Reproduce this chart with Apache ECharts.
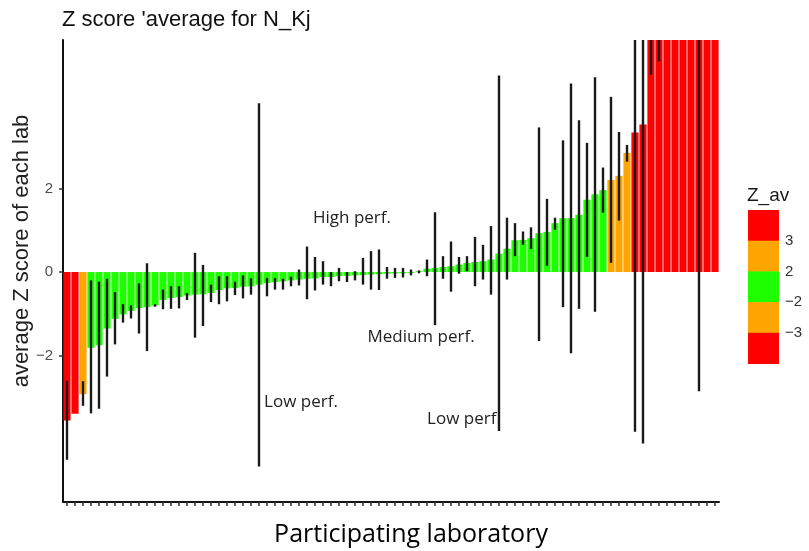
<!DOCTYPE html>
<html>
<head>
<meta charset="utf-8">
<script src="https://cdn.jsdelivr.net/npm/echarts@6/dist/echarts.min.js"></script>
<style>html,body{margin:0;padding:0;background:#fff}#c{width:809px;height:551px}</style>
</head>
<body>
<div id="c"></div>
<script>
// ---- data ----
const labs = Array.from({length: 82}, (_, i) => 'Lab ' + (i + 1));
const zAvg = [
  -3.55, -3.39, -2.92, -1.81, -1.75, -1.35, -1.12, -1.01, -0.93, -0.86,
  -0.84, -0.80, -0.67, -0.62, -0.60, -0.56, -0.54, -0.53, -0.50, -0.43,
  -0.39, -0.38, -0.35, -0.34, -0.30, -0.26, -0.24, -0.22, -0.20, -0.18,
  -0.16, -0.15, -0.12, -0.12, -0.10, -0.09, -0.08, -0.07, -0.06, -0.05,
  -0.04, -0.03, -0.03, -0.02, 0.02, 0.08, 0.10, 0.12, 0.14, 0.18,
  0.22, 0.24, 0.26, 0.30, 0.44, 0.56, 0.76, 0.77, 0.81, 0.93,
  0.96, 1.17, 1.29, 1.29, 1.37, 1.73, 1.86, 1.96, 2.20, 2.30,
  2.85, 3.34, 3.53, 5.55, 5.55, 5.55, 5.55, 5.55, 5.55, 5.55,
  5.55, 5.55
];
const errLow = [
  -4.49, null, -3.20, -3.38, -3.27, -2.50, -1.73, -1.21, -1.11, -1.47,
  -1.89, -0.83, -0.89, -0.88, -0.87, -0.67, -1.57, -1.29, -0.72, -0.77,
  -0.70, -0.55, -0.63, -0.54, -4.65, -0.58, -0.42, -0.42, -0.34, -0.32,
  -0.65, -0.44, -0.30, -0.34, -0.22, -0.24, -0.20, -0.30, -0.42, -0.43,
  -0.16, -0.14, -0.13, -0.08, -0.03, -0.10, -1.27, -0.16, -0.47, -0.04,
  0.02, -0.34, -0.18, -0.54, -3.80, -0.18, 0.38, 0.65, 0.55, -1.65,
  0.15, 1.01, -0.84, -1.94, -0.88, 0.36, -0.95, 1.42, 0.22, 1.23,
  2.64, -3.82, -4.10, 4.72, 5.04, null, null, null, null, -2.85,
  null, null
];
const errHigh = [
  -2.60, null, -2.61, -0.20, -0.23, -0.16, -0.48, -0.77, -0.80, -0.27,
  0.21, -0.77, -0.42, -0.34, -0.34, -0.50, 0.46, 0.17, -0.30, -0.10,
  -0.10, -0.23, -0.08, -0.15, 4.04, -0.14, -0.14, -0.16, -0.11, 0.06,
  0.61, 0.36, 0.26, 0.00, 0.10, 0.00, 0.02, 0.34, 0.50, 0.54,
  0.12, 0.10, 0.10, 0.06, 0.04, 0.30, 1.43, 0.38, 0.73, 0.36,
  0.38, 0.84, 0.65, 1.10, 4.70, 1.30, 1.17, 0.97, 1.07, 3.46,
  1.75, 1.30, 3.15, 4.51, 3.63, 3.09, 4.66, 2.50, 4.19, 3.35,
  3.04, 5.55, 5.55, 5.55, 5.55, null, null, null, null, 5.55,
  null, null
];
const yTicks = [-2, 0, 2];
const legendLabels = ['3', '2', '\u22122', '\u22123'];
const annotations = [
  {text: 'High perf.', x: 352, y: 218},
  {text: 'Medium perf.', x: 421, y: 337},
  {text: 'Low perf.', x: 301, y: 402},
  {text: 'Low perf.', x: 464, y: 419}
];

// ---- colours ----
const RED = '#FF0000', ORANGE = '#FFA500', GREEN = '#1EFF00';
function colorFor(v) {
  const a = Math.abs(v);
  if (a >= 3) return RED;
  if (a >= 2) return ORANGE;
  return GREEN;
}

const barData = zAvg.map(v => ({value: v, itemStyle: {color: colorFor(v)}}));
const errData = [];
errLow.forEach((lo, i) => { if (lo !== null && errHigh[i] !== null) errData.push([i, lo, errHigh[i]]); });

const chart = echarts.init(document.getElementById('c'), null, {renderer: 'canvas'});

const legendX = 748, legendY = 210, segH = 30.7, segW = 31;
const legendColors = [RED, ORANGE, GREEN, ORANGE, RED];
const graphics = [];
legendColors.forEach((c, k) => {
  graphics.push({type: 'rect', left: legendX, top: legendY + k * segH,
    shape: {width: segW, height: segH + 0.5}, style: {fill: c}, z: 10});
});
legendLabels.forEach((t, k) => {
  graphics.push({type: 'text', x: 785, y: legendY + (k + 1) * segH,
    style: {text: t, font: '15px "Liberation Sans", Arial, sans-serif', fill: '#333',
      textAlign: 'left', textVerticalAlign: 'middle'}, z: 10});
});
graphics.push({type: 'text', x: 747, y: 196,
  style: {text: 'Z_av', font: '19px "Liberation Sans", Arial, sans-serif', fill: '#1a1a1a',
    textAlign: 'left', textVerticalAlign: 'middle'}});
graphics.push({type: 'text', x: 62, y: 20,
  style: {text: "Z score 'average for N_Kj", font: '22px "Liberation Sans", Arial, sans-serif', fill: '#111',
    textAlign: 'left', textVerticalAlign: 'middle'}});
graphics.push({type: 'text', x: 22, y: 251, rotation: Math.PI / 2,
  style: {text: 'average Z score of each lab', font: '22px "Liberation Sans", Arial, sans-serif', fill: '#222',
    textAlign: 'center', textVerticalAlign: 'middle'}});
graphics.push({type: 'text', x: 411, y: 535,
  style: {text: 'Participating laboratory', font: '25px "Open Sans", sans-serif', fill: '#000',
    textAlign: 'center', textVerticalAlign: 'middle'}});
annotations.forEach(a => {
  graphics.push({type: 'text', x: a.x, y: a.y,
    style: {text: a.text, font: '17px "Open Sans", sans-serif', fill: '#222',
      textAlign: 'center', textVerticalAlign: 'middle'}, z: 20});
});

chart.setOption({
  animation: false,
  backgroundColor: '#fff',
  grid: {left: 63, right: 90, top: 40, bottom: 49, containLabel: false},
  xAxis: {
    type: 'category',
    data: labs,
    boundaryGap: true,
    axisLine: {onZero: false, lineStyle: {color: '#111', width: 2}},
    axisTick: {show: true, alignWithLabel: true, interval: 0, length: 4, lineStyle: {color: '#333', width: 1.5}},
    axisLabel: {show: false},
    splitLine: {show: false}
  },
  yAxis: {
    type: 'value',
    min: -5.5,
    max: 5.55,
    axisLine: {show: true, lineStyle: {color: '#111', width: 2}},
    axisTick: {show: true, length: 4, customValues: yTicks, lineStyle: {color: '#333', width: 1.5}},
    axisLabel: {show: true, customValues: yTicks, margin: 10, color: '#4d4d4d', fontSize: 15,
      fontFamily: '"Liberation Sans", Arial, sans-serif',
      formatter: v => String(v).replace('-', '\u2212')},
    splitLine: {show: false}
  },
  series: [
    {
      type: 'bar',
      data: barData,
      barCategoryGap: '10%',
      clip: true,
      z: 2
    },
    {
      type: 'custom',
      data: errData,
      z: 5,
      renderItem: function (params, api) {
        const xi = api.value(0);
        const p1 = api.coord([xi, api.value(1)]);
        const p2 = api.coord([xi, api.value(2)]);
        return {type: 'line', shape: {x1: p1[0], y1: p1[1], x2: p2[0], y2: p2[1]},
          style: {stroke: '#1a1a1a', lineWidth: 2.4}};
      }
    }
  ],
  graphic: graphics
});
</script>
</body>
</html>
